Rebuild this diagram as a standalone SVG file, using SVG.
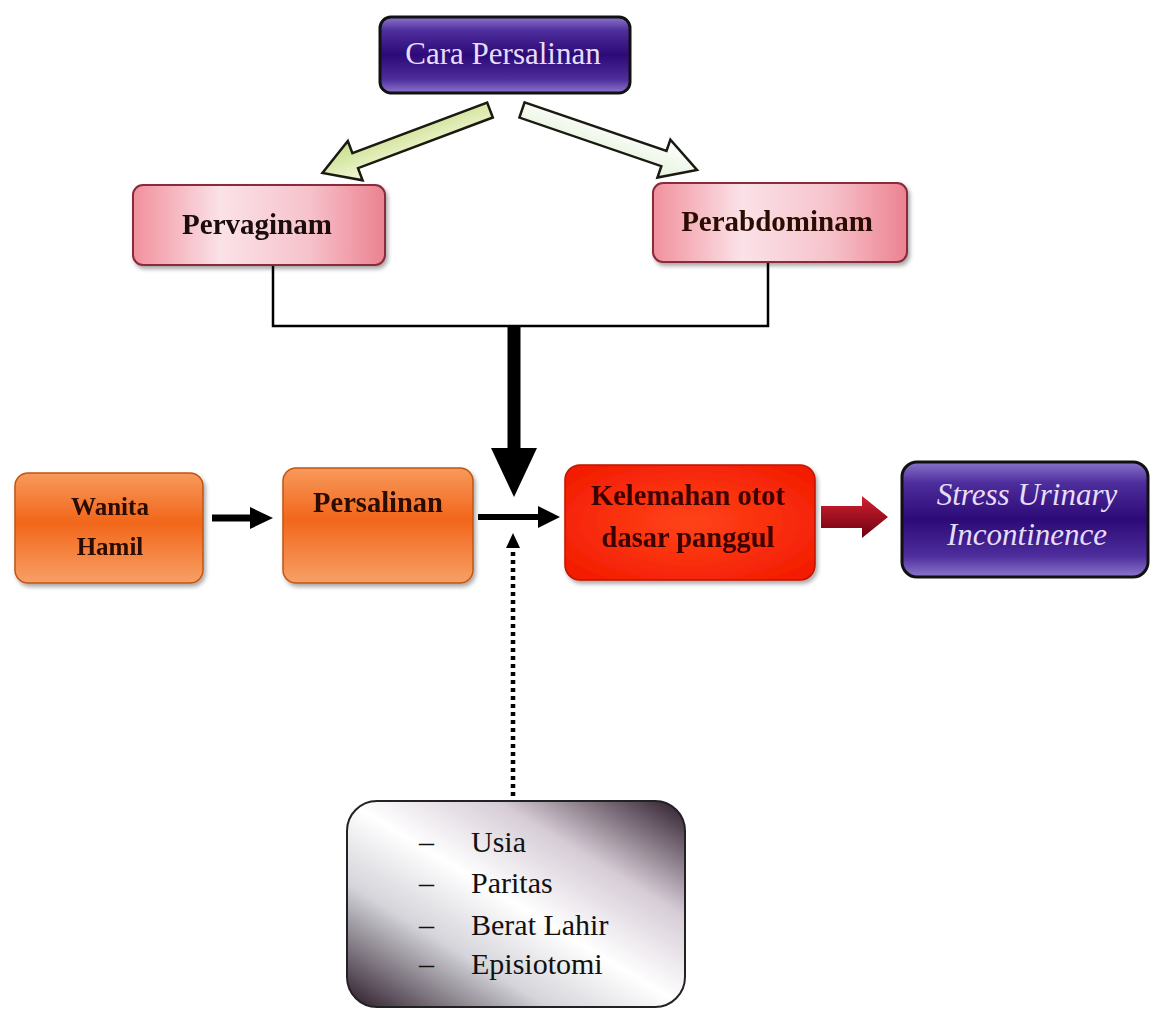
<svg xmlns="http://www.w3.org/2000/svg" width="1151" height="1010" viewBox="0 0 1151 1010">
<defs>
<linearGradient id="gPurple" x1="0" y1="0" x2="0" y2="1">
<stop offset="0" stop-color="#8a74cc"/><stop offset="0.18" stop-color="#4e2e9c"/><stop offset="0.5" stop-color="#2c0a78"/><stop offset="0.82" stop-color="#4e2e9c"/><stop offset="1" stop-color="#8c76cc"/>
</linearGradient>
<linearGradient id="gPink" x1="0" y1="0" x2="1" y2="0">
<stop offset="0" stop-color="#f1909c"/><stop offset="0.35" stop-color="#fbe2e8"/><stop offset="0.7" stop-color="#f6c2cb"/><stop offset="1" stop-color="#ec8290"/>
</linearGradient>
<linearGradient id="gOrange" x1="0" y1="0" x2="0" y2="1">
<stop offset="0" stop-color="#f79a5c"/><stop offset="0.45" stop-color="#f2661a"/><stop offset="1" stop-color="#f7a066"/>
</linearGradient>
<radialGradient id="gRed" cx="0.5" cy="0.5" r="0.7">
<stop offset="0" stop-color="#ff4418"/><stop offset="1" stop-color="#f21800"/>
</radialGradient>
<linearGradient id="gRedArrow" x1="0" y1="0" x2="0" y2="1">
<stop offset="0" stop-color="#d42030"/><stop offset="1" stop-color="#6a0010"/>
</linearGradient>
<linearGradient id="gGreen" x1="0" y1="0" x2="0" y2="1">
<stop offset="0" stop-color="#f6f9dc"/><stop offset="1" stop-color="#c6dd88"/>
</linearGradient>
<linearGradient id="gWhite" x1="0" y1="0" x2="0" y2="1">
<stop offset="0" stop-color="#ffffff"/><stop offset="1" stop-color="#e4f2dc"/>
</linearGradient>
<linearGradient id="gGrey" x1="0" y1="1" x2="1" y2="0">
<stop offset="0" stop-color="#2a1a28"/><stop offset="0.3" stop-color="#d4d4da"/><stop offset="0.5" stop-color="#ffffff"/><stop offset="0.72" stop-color="#d6ccd6"/><stop offset="1" stop-color="#2a1a28"/>
</linearGradient>
<filter id="shadow" x="-10%" y="-10%" width="125%" height="130%">
<feDropShadow dx="2" dy="3" stdDeviation="2" flood-color="#000" flood-opacity="0.35"/>
</filter>
<filter id="blur"><feGaussianBlur stdDeviation="0.6"/></filter>
</defs>
<style>
.lbl{font-family:"Liberation Serif","Times New Roman",serif;font-weight:bold;fill:#2a0a00;text-anchor:middle;}
.lav{font-family:"Liberation Serif","Times New Roman",serif;fill:#e6ddf8;text-anchor:middle;}
.item{font-family:"Liberation Serif","Times New Roman",serif;fill:#111;font-size:30px;}
</style>
<rect width="1151" height="1010" fill="#ffffff"/>

<g id="connectors">
<polygon transform="translate(490,110) rotate(159.4)" points="0,-8 144,-8 144,-21 179,0 144,21 144,8 0,8" fill="url(#gGreen)" stroke="#1a1a10" stroke-width="2.5"/>
<polygon transform="translate(522,110) rotate(18.9)" points="0,-8 150,-8 150,-20 185,0 150,20 150,8 0,8" fill="url(#gWhite)" stroke="#1a1a10" stroke-width="2.5"/>
<polyline points="273,265 273,326 768,326 768,262" fill="none" stroke="#000" stroke-width="2.5"/>
<line x1="514" y1="326" x2="514" y2="452" stroke="#000" stroke-width="13"/>
<polygon points="491,448 537,448 514,497" fill="#000"/>
<line x1="212" y1="518" x2="252" y2="518" stroke="#000" stroke-width="7"/>
<polygon points="250,507 273,518 250,529" fill="#000"/>
<line x1="478" y1="517" x2="540" y2="517" stroke="#000" stroke-width="6"/>
<polygon points="538,506 560,517 538,528" fill="#000"/>
<line x1="513" y1="796" x2="513" y2="546" stroke="#000" stroke-width="4.5" stroke-dasharray="4,4"/>
<polygon points="506,548 520,548 513,533" fill="#000"/>
<polygon points="821,506 862,506 862,496 888,517 862,538 862,528 821,528" fill="url(#gRedArrow)"/>
</g>

<g id="node-cara">
<rect x="380" y="17" width="250" height="76" rx="11" fill="url(#gPurple)" stroke="#111" stroke-width="3"/>
<text x="503" y="64" class="lav" font-size="31">Cara Persalinan</text>
</g>

<g id="node-pervaginam" filter="url(#shadow)">
<rect x="133" y="185" width="252" height="80" rx="10" fill="url(#gPink)" stroke="#8a2a3a" stroke-width="2"/>
<text x="257" y="234" class="lbl" font-size="29" style="fill:#1a0a10">Pervaginam</text>
</g>

<g id="node-perabdominam" filter="url(#shadow)">
<rect x="653" y="183" width="254" height="79" rx="10" fill="url(#gPink)" stroke="#8a2a3a" stroke-width="2"/>
<text x="777" y="231" class="lbl" font-size="29">Perabdominam</text>
</g>

<g id="node-wanita" filter="url(#shadow)">
<rect x="15" y="473" width="188" height="110" rx="13" fill="url(#gOrange)" stroke="#c25412" stroke-width="1.5"/>
<text x="110" y="515" class="lbl" font-size="25">Wanita</text>
<text x="110" y="555" class="lbl" font-size="25">Hamil</text>
</g>

<g id="node-persalinan" filter="url(#shadow)">
<rect x="283" y="468" width="190" height="115" rx="13" fill="url(#gOrange)" stroke="#c25412" stroke-width="1.5"/>
<text x="378" y="512" class="lbl" font-size="28.5">Persalinan</text>
</g>

<g id="node-kelemahan" filter="url(#shadow)">
<rect x="565" y="465" width="250" height="115" rx="15" fill="url(#gRed)" stroke="#c01400" stroke-width="1.5"/>
<g filter="url(#blur)">
<text x="688" y="505" class="lbl" font-size="28.5" style="fill:#3a0400">Kelemahan otot</text>
<text x="688" y="547" class="lbl" font-size="28.5" style="fill:#3a0400">dasar panggul</text>
</g>
</g>

<g id="node-sui">
<rect x="902" y="462" width="246" height="115" rx="15" fill="url(#gPurple)" stroke="#111" stroke-width="3"/>
<text x="1027" y="505" class="lav" font-size="31" font-style="italic">Stress Urinary</text>
<text x="1027" y="545" class="lav" font-size="31" font-style="italic">Incontinence</text>
</g>

<g id="node-faktor">
<rect x="347" y="801" width="338" height="206" rx="30" fill="url(#gGrey)" stroke="#222" stroke-width="2"/>
<text x="419" y="852" class="item">–</text><text x="471" y="852" class="item">Usia</text>
<text x="419" y="893" class="item">–</text><text x="471" y="893" class="item">Paritas</text>
<text x="419" y="935" class="item">–</text><text x="471" y="935" class="item">Berat Lahir</text>
<text x="419" y="974" class="item">–</text><text x="471" y="974" class="item">Episiotomi</text>
</g>
</svg>
